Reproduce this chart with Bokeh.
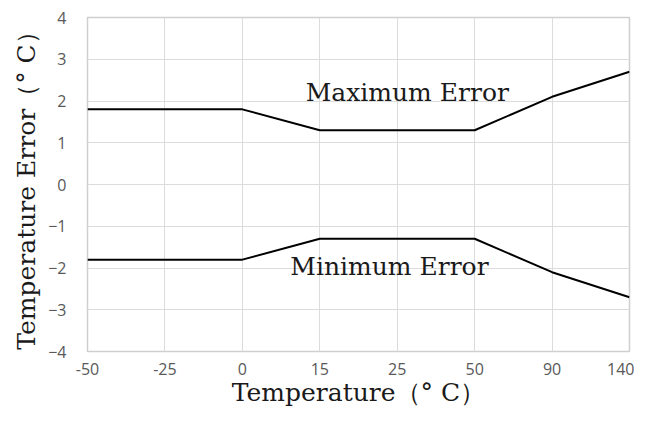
from bokeh.plotting import figure
from bokeh.models import FixedTicker, Range1d
from bokeh.core.properties import value
from bokeh.embed import file_html
from bokeh.resources import INLINE

categories = ["-50", "-25", "0", "15", "25", "50", "90", "140"]
max_error = [1.8, 1.8, 1.8, 1.3, 1.3, 1.3, 2.1, 2.7]
min_error = [-1.8, -1.8, -1.8, -1.3, -1.3, -1.3, -2.1, -2.7]
y_ticks = [-4, -3, -2, -1, 0, 1, 2, 3, 4]

xs = list(range(len(categories)))

p = figure(width=634, height=409, output_backend="svg", toolbar_location=None,
           x_range=Range1d(0, len(categories) - 1), y_range=Range1d(-4, 4),
           min_border_left=87, min_border_right=5, min_border_top=17, min_border_bottom=56)

p.line(xs, max_error, line_color="black", line_width=2)
p.line(xs, min_error, line_color="black", line_width=2)

serif = "DejaVu Serif"
p.text(x=[4.13], y=[2.21], text=["Maximum Error"], text_font=value(serif), text_font_size="25px",
       text_align="center", text_baseline="middle", text_color="#1a1a1a")
p.text(x=[3.9], y=[-1.97], text=["Minimum Error"], text_font=value(serif), text_font_size="25px",
       text_align="center", text_baseline="middle", text_color="#1a1a1a")

p.xaxis.ticker = FixedTicker(ticks=xs)
p.xaxis.major_label_overrides = {i: c for i, c in enumerate(categories)}
p.yaxis.ticker = FixedTicker(ticks=y_ticks)

for ax in (p.xaxis, p.yaxis):
    ax.axis_line_color = None
    ax.major_tick_line_color = None
    ax.minor_tick_line_color = None
    ax.major_label_text_font = "Open Sans"
    ax.major_label_text_font_size = "16px"
    ax.major_label_text_color = "#595959"
    ax.axis_label_text_font = serif
    ax.axis_label_text_font_size = "25px"
    ax.axis_label_text_font_style = "normal"
    ax.axis_label_text_color = "#1a1a1a"

p.xaxis.axis_label = "Temperature（° C）"
p.yaxis.axis_label = "Temperature Error（° C）"
p.xaxis.major_label_standoff = 5
p.yaxis.major_label_standoff = 15
p.xaxis.axis_label_standoff = 0
p.yaxis.axis_label_standoff = 4

p.xgrid.ticker = FixedTicker(ticks=xs)
p.grid.grid_line_color = "#dcdcdc"
p.grid.grid_line_width = 1
p.outline_line_color = "#cfcfcf"
p.outline_line_width = 1.5
p.background_fill_color = "white"
p.border_fill_color = "white"

open("out.html", "w").write(file_html(p, INLINE))
